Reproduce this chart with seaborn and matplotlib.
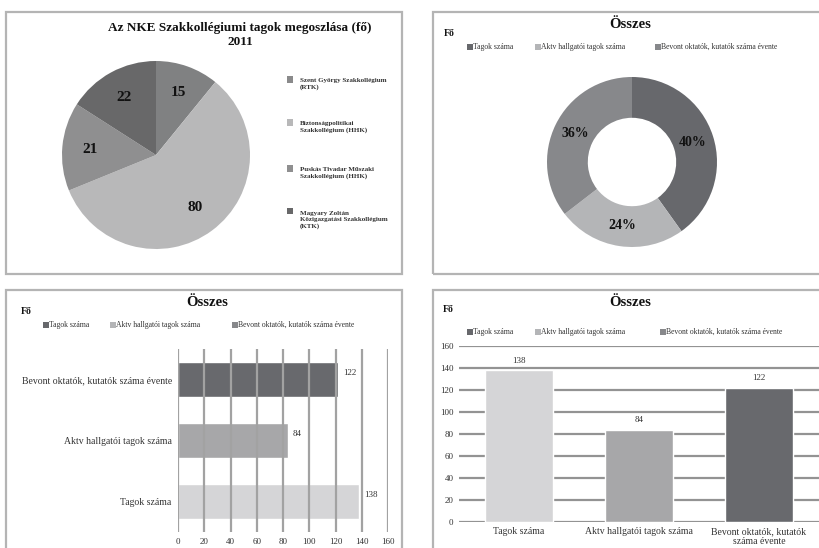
import matplotlib
matplotlib.use("Agg")
import matplotlib.pyplot as plt
from matplotlib.patches import Rectangle
import seaborn as sns
import pandas as pd

# ---------------- data ----------------
pie_labels = ["Szent György Szakkollégium\n(RTK)",
              "Biztonságpolitikai\nSzakkollégium (HHK)",
              "Puskás Tivadar Műszaki\nSzakkollégium (HHK)",
              "Magyary Zoltán\nKözigazgatási Szakkollégium\n(KTK)"]
pie_values = [15, 80, 21, 22]
pie_colors = ["#808182", "#b8b8b9", "#8f8f90", "#686869"]
pie_legend_colors = ["#8a8a8b", "#b8b8b9", "#8f8f90", "#686869"]

cats = ["Tagok száma", "Aktv hallgatói tagok száma", "Bevont oktatók, kutatók száma évente"]
cat_values = [138, 84, 122]
donut_colors = ["#67686c", "#b4b5b7", "#87888b"]   # also legend colours
bar_colors = ["#d5d5d7", "#a7a7a9", "#68696d"]
h_order = ["Bevont oktatók, kutatók száma évente", "Aktv hallgatói tagok száma", "Tagok száma"]
x_ticks = [0, 20, 40, 60, 80, 100, 120, 140, 160]
v_ticklabels = ["Tagok száma", "Aktv hallgatói tagok száma", "Bevont oktatók, kutatók\nszáma évente"]

# ---------------- setup ----------------
sns.set_style("white")
plt.rcParams['font.family'] = ['Liberation Serif', 'DejaVu Serif']
W, H = 819, 548
fig = plt.figure(figsize=(W / 100, H / 100), dpi=100)

def ax_px(x0, y0, x1, y1):
    return fig.add_axes([x0 / W, 1 - y1 / H, (x1 - x0) / W, (y1 - y0) / H])

def box(x0, y0, x1, y1):
    fig.add_artist(Rectangle((x0 / W, 1 - y1 / H), (x1 - x0) / W, (y1 - y0) / H,
                             transform=fig.transFigure, fill=False,
                             ec="#b4b4b4", lw=1.6, zorder=0))

def ftext(x, y, s, **kw):
    fig.text(x / W, 1 - y / H, s, **kw)

def legend_row(items, y, fs=5.5):
    for (mx, tx, label, col) in items:
        fig.add_artist(Rectangle((mx / W, 1 - (y + 3) / H), 6 / W, 6 / H,
                                 transform=fig.transFigure, fc=col, ec="none"))
        ftext(tx, y, label, fontsize=fs, va="center", ha="left", color="#333333")

# panel boxes
box(6, 12, 402, 274)
box(433, 12, 830, 274)
box(6, 290, 402, 560)
box(433, 290, 830, 560)

# ---------------- panel 1: pie ----------------
ax1 = ax_px(62, 61, 250, 249)
tot = sum(pie_values)
ax1.pie(pie_values, colors=pie_colors, startangle=90, counterclock=False,
        autopct=lambda p: f"{round(p * tot / 100)}", pctdistance=0.7,
        textprops=dict(fontsize=11, fontweight="bold", color="#111111"),
        wedgeprops=dict(linewidth=0))
ax1.set_xlim(-1, 1); ax1.set_ylim(-1, 1); ax1.set_aspect("equal")
ftext(240, 35, "Az NKE Szakkollégiumi tagok megoszlása (fő)\n2011", fontsize=9.5,
      fontweight="bold", ha="center", va="center", linespacing=1.2, color="#111111")
leg_y = [84, 127, 173, 220]
for lab, col, yy in zip(pie_labels, pie_legend_colors, leg_y):
    nlines = lab.count("\n") + 1
    first = yy - (nlines - 1) * 9 / 2
    fig.add_artist(Rectangle((287 / W, 1 - (first + 3) / H), 6 / W, 6 / H,
                             transform=fig.transFigure, fc=col, ec="none"))
    ftext(300, yy, lab, fontsize=5, fontweight="bold", va="center", ha="left",
          linespacing=1.35, color="#333333")

# ---------------- panel 2: donut ----------------
# percentages rounded so that they add up to 100 (largest remainder)
dtot = sum(cat_values)
raw = [v * 100 / dtot for v in cat_values]
pcts = [int(r) for r in raw]
for i in sorted(range(len(raw)), key=lambda i: raw[i] - int(raw[i]), reverse=True)[:100 - sum(pcts)]:
    pcts[i] += 1

ax2 = ax_px(547, 77, 717, 247)
wedges, _ = ax2.pie(cat_values, colors=donut_colors, startangle=90, counterclock=False,
                    wedgeprops=dict(width=0.48, linewidth=0))
import numpy as np
for w, pc in zip(wedges, pcts):
    ang = np.deg2rad((w.theta1 + w.theta2) / 2)
    ax2.text(0.75 * np.cos(ang), 0.75 * np.sin(ang), f"{pc}%", ha="center", va="center",
             fontsize=10, fontweight="bold", color="#111111")
ax2.set_xlim(-1, 1); ax2.set_ylim(-1, 1); ax2.set_aspect("equal")
ftext(630, 25, "Összes", fontsize=10.5, fontweight="bold", ha="center", va="center", color="#111111")
ftext(444, 33, "Fő", fontsize=7, fontweight="bold", ha="left", va="center", color="#111111")
legend_row([(467, 473, cats[0], donut_colors[0]),
            (535, 541, cats[1], donut_colors[1]),
            (655, 661, cats[2], donut_colors[2])], 47)

# ---------------- panel 3: horizontal bars ----------------
ax3 = ax_px(178, 349, 388, 532)
df = pd.DataFrame({"cat": cats, "val": cat_values})
pal = dict(zip(cats, bar_colors))
sns.barplot(data=df, y="cat", x="val", order=h_order, hue="cat", palette=pal,
            width=0.57, orient="h", legend=False, ax=ax3, saturation=1)
ax3.set_xlim(0, 160)
ax3.set_xticks(x_ticks)
ax3.set_axisbelow(False)
ax3.xaxis.grid(True, color="#a2a2a2", lw=1.6)
ax3.yaxis.grid(False)
for s in ax3.spines.values():
    s.set_visible(False)
ax3.tick_params(axis="x", length=0, pad=4.5, labelsize=6.5, labelcolor="#333333")
ax3.tick_params(axis="y", length=0, pad=4.5, labelsize=7, labelcolor="#333333")
ax3.set_xlabel(""); ax3.set_ylabel("")
for p in ax3.patches:
    w = p.get_width()
    ax3.annotate(f"{w:.0f}", xy=(w, p.get_y() + p.get_height() / 2), xytext=(3.5, 4.5),
                 textcoords="offset points", va="center", ha="left", fontsize=6.5, color="#333333")
ftext(207, 303, "Összes", fontsize=10.5, fontweight="bold", ha="center", va="center", color="#111111")
ftext(21, 311, "Fő", fontsize=7, fontweight="bold", ha="left", va="center", color="#111111")
legend_row([(43, 49, cats[0], donut_colors[0]),
            (110, 116, cats[1], donut_colors[1]),
            (232, 238, cats[2], donut_colors[2])], 325)

# ---------------- panel 4: vertical bars ----------------
ax4 = ax_px(459, 346, 819, 522)
sns.barplot(data=df, x="cat", y="val", order=cats, hue="cat", palette=pal,
            width=0.57, legend=False, ax=ax4, saturation=1)
ax4.set_ylim(0, 160)
ax4.set_yticks(x_ticks)
ax4.set_axisbelow(True)
ax4.yaxis.grid(True, color="#939393", lw=1.6)
ax4.xaxis.grid(False)
for s in ax4.spines.values():
    s.set_visible(False)
ax4.set_xticks(range(len(cats)))
ax4.set_xticklabels(v_ticklabels, linespacing=1.15)
ax4.tick_params(axis="y", length=0, pad=4, labelsize=6.5, labelcolor="#333333")
ax4.tick_params(axis="x", length=0, pad=3.5, labelsize=7, labelcolor="#333333")
ax4.set_xlabel(""); ax4.set_ylabel("")
for p in ax4.patches:
    h = p.get_height()
    ax4.annotate(f"{h:.0f}", xy=(p.get_x() + p.get_width() / 2, h), xytext=(0, 4),
                 textcoords="offset points", va="bottom", ha="center", fontsize=6.5, color="#333333")
ftext(630, 302, "Összes", fontsize=10.5, fontweight="bold", ha="center", va="center", color="#111111")
ftext(443, 310, "Fő", fontsize=7, fontweight="bold", ha="left", va="center", color="#111111")
legend_row([(467, 473, cats[0], donut_colors[0]),
            (535, 541, cats[1], donut_colors[1]),
            (660, 666, cats[2], donut_colors[2])], 332)

fig.savefig("out.png", dpi=100)
